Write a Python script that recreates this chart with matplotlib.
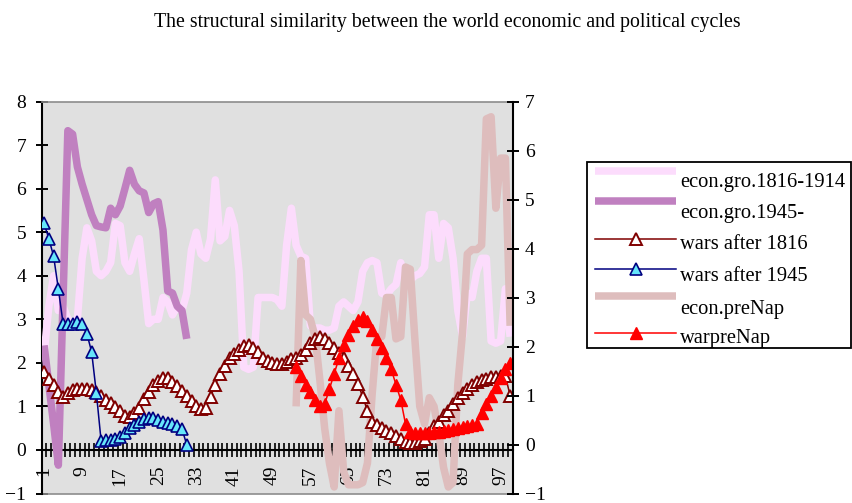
import numpy as np
import matplotlib
matplotlib.use("Agg")
import matplotlib.pyplot as plt
from matplotlib.lines import Line2D
from matplotlib.patches import Rectangle

plt.rcParams['font.family'] = ['Liberation Serif', 'DejaVu Serif']

W, H = 852, 503

title = "The structural similarity between the world economic and political cycles"
categories = list(range(1, 100))
tick_labels = [str(c) for c in range(1, 100, 8)]

econ_gro_1816 = [2.2, 3.3, 4.0, 3.2, 3.3, 3.0, 2.9, 3.0, 4.4, 5.1,
                 4.8, 4.1, 4.0, 4.1, 4.3, 5.2, 5.15, 4.3, 4.1, 4.5,
                 4.85, 3.9, 2.9, 3.0, 3.0, 3.5, 3.4, 3.1, 3.3, 3.2,
                 3.6, 4.6, 5.0, 4.5, 4.4, 4.85, 6.2, 4.8, 4.9, 5.5,
                 5.15, 4.1, 1.9, 1.85, 1.9, 3.5, 3.5, 3.5, 3.5, 3.45,
                 3.3, 4.7, 5.55, 4.7, 4.45, 4.4, 2.85, 2.8, 2.8, 2.75,
                 2.75, 2.8, 3.3, 3.4, 3.3, 3.2, 3.4, 4.1, 4.3, 4.35,
                 4.3, 3.6, 3.55, 3.7, 3.8, 4.3, 3.9, 3.9, 4.0, 4.05,
                 4.2, 5.4, 5.4, 4.4, 5.2, 5.1, 4.4, 3.2, 2.6, 3.6,
                 3.5, 4.1, 4.4, 4.4, 2.5, 2.45, 2.5, 3.7, 2.6]

econ_gro_1945 = [2.4, 1.5, 0.6, -0.35, 3.5, 7.33, 7.25, 6.5, 6.1, 5.75,
                 5.4, 5.15, 5.12, 5.1, 5.55, 5.4, 5.6, 6.0, 6.42, 6.1,
                 5.95, 5.9, 5.45, 5.65, 5.7, 5.05, 3.65, 3.6, 3.3, 3.2, 2.55]

wars_after_1816 = [1.8, 1.63, 1.48, 1.33, 1.22, 1.3, 1.38, 1.4, 1.4, 1.4,
                   1.38, 1.33, 1.25, 1.15, 1.07, 0.98, 0.9, 0.78, 0.75, 0.85,
                   0.97, 1.17, 1.33, 1.48, 1.58, 1.65, 1.65, 1.57, 1.47, 1.35,
                   1.23, 1.12, 1.02, 0.93, 0.97, 1.22, 1.5, 1.75, 1.93, 2.1,
                   2.2, 2.3, 2.38, 2.42, 2.35, 2.25, 2.12, 2.05, 2.0, 1.98,
                   1.98, 2.02, 2.08, 2.12, 2.18, 2.3, 2.45, 2.55, 2.6, 2.55,
                   2.45, 2.35, 2.22, 2.1, 1.93, 1.75, 1.52, 1.22, 0.9, 0.65,
                   0.58, 0.5, 0.44, 0.4, 0.32, 0.25, 0.18, 0.17, 0.17, 0.2,
                   0.25, 0.4, 0.55, 0.65, 0.8, 0.9, 1.05, 1.2, 1.3, 1.4,
                   1.5, 1.55, 1.6, 1.62, 1.67, 1.67, 1.7, 1.7, 1.25]

wars_after_1945 = [5.2, 4.85, 4.45, 3.7, 2.9, 2.9, 2.9, 2.93, 2.9, 2.67,
                   2.25, 1.3, 0.2, 0.22, 0.22, 0.26, 0.3, 0.4, 0.5, 0.58,
                   0.64, 0.7, 0.74, 0.74, 0.68, 0.64, 0.63, 0.6, 0.54, 0.48, 0.12]

econ_prenap = [1.0, 4.35, 3.1, 3.0, 2.6, 1.6, 0.5, -0.3, -0.85, 0.9,
               -0.5, -0.8, -0.8, -0.8, -0.75, -0.3, 1.3, 2.6, 2.6, 3.5,
               3.5, 2.55, 2.6, 4.2, 4.15, 2.5, 1.0, 0.6, 1.2, 1.0,
               0.4, -0.4, -0.85, -0.75, 1.5, 2.7, 4.5, 4.6, 4.6, 4.7,
               7.6, 7.65, 5.55, 6.7, 6.7, 2.85]

war_prenap = [1.9, 1.7, 1.5, 1.33, 1.15, 1.0, 1.05, 1.4, 1.75, 2.1,
              2.4, 2.65, 2.85, 2.98, 3.06, 2.95, 2.75, 2.55, 2.35, 2.1,
              1.85, 1.5, 1.15, 0.6, 0.42, 0.38, 0.38, 0.4, 0.4, 0.42,
              0.42, 0.44, 0.46, 0.48, 0.5, 0.52, 0.55, 0.58, 0.6, 0.85,
              1.05, 1.25, 1.45, 1.65, 1.85, 2.0]

prenap_start = 54  # first category of the pre-Napoleonic series

C_E1816 = '#FCDCFC'
C_E1945 = '#C080C0'
C_PRE = '#DEBDBD'
C_W1816 = '#800000'
C_W1945 = '#000080'
C_CYAN = '#66E6FA'
C_RED = '#FF0000'

MS = 8.6

fig = plt.figure(figsize=(W / 100, H / 100), dpi=100)
ax = fig.add_axes([41.7 / W, (H - 493.5) / H, 470.8 / W, 392 / H])
ax.set_facecolor('#E0E0E0')
ax.set_xlim(0.5, 99.5)
ax.set_ylim(-1, 8)
ax.set_axisbelow(True)

x_all = np.array(categories)
x_post = x_all[:len(econ_gro_1945)]
x_pre = x_all[prenap_start - 1:]

thick = 5.4
ax.plot(x_all, econ_gro_1816, color=C_E1816, lw=thick, solid_capstyle='butt', zorder=3)
ax.plot(x_post, econ_gro_1945, color=C_E1945, lw=thick, solid_capstyle='butt', zorder=3.1)
ax.plot(x_all, wars_after_1816, color=C_W1816, lw=1.1, marker='^', ms=MS,
        mfc='white', mec=C_W1816, mew=1.4, zorder=4)
ax.plot(x_post, wars_after_1945, color=C_W1945, lw=1.1, marker='^', ms=MS,
        mfc=C_CYAN, mec=C_W1945, mew=1.2, zorder=4.1)
ax.plot(x_pre, econ_prenap, color=C_PRE, lw=thick, solid_capstyle='butt', zorder=3.2)
ax.plot(x_pre, war_prenap, color=C_RED, lw=1.1, marker='^', ms=MS,
        mfc=C_RED, mec=C_RED, mew=1.0, zorder=4.2)

# spines
ax.spines['top'].set_color('#8C8C8C')
ax.spines['top'].set_linewidth(1.2)
ax.spines['right'].set_visible(False)
ax.spines['left'].set_color('black')
ax.spines['left'].set_linewidth(1.5)
ax.spines['bottom'].set_position(('data', 0))
ax.spines['bottom'].set_color('black')
ax.spines['bottom'].set_linewidth(1.5)
ax.axhline(-1, color='#8C8C8C', lw=1.2, clip_on=False, zorder=2)

ax.set_yticks(range(-1, 9))
ax.tick_params(axis='y', direction='inout', length=8.4, width=1.4, pad=7, labelsize=14)
ax.set_xticks(range(1, 100, 8))
ax.set_xticklabels(tick_labels)
ax.tick_params(axis='x', which='major', length=0, pad=11.5, labelsize=14, labelrotation=90)
ax.set_xticks(np.arange(0.5, 100, 1), minor=True)
ax.tick_params(axis='x', which='minor', direction='inout', length=10, width=1.2)

ax2 = ax.twinx()
ax2.set_ylim(-1, 7)
for s in ['top', 'bottom', 'left']:
    ax2.spines[s].set_visible(False)
ax2.spines['right'].set_color('black')
ax2.spines['right'].set_linewidth(1.5)
ax2.set_yticks(range(-1, 8))
ax2.tick_params(axis='y', direction='inout', length=8.4, width=1.4, pad=4.7, labelsize=14)

fig.text(447 / W, 1 - 26.5 / H, title, ha='center', va='baseline', fontsize=14.3)

# legend (drawn manually to match the original layout)
def fx(x):
    return x / W

def fy(y):
    return 1 - y / H

fig.add_artist(Rectangle((fx(587), fy(348)), fx(851) - fx(587), fy(162) - fy(348),
                         transform=fig.transFigure, facecolor='white',
                         edgecolor='black', lw=1.3, zorder=5))
entries = [
    ("econ.gro.1816-1914", dict(color=C_E1816, lw=thick, solid_capstyle='butt'), None, 171, 187.3),
    ("econ.gro.1945-", dict(color=C_E1945, lw=thick, solid_capstyle='butt'), None, 201, 218.3),
    ("wars after 1816", dict(color=C_W1816, lw=1.1), dict(mfc='white', mec=C_W1816, mew=1.4), 239.3, 249.3),
    ("wars after 1945", dict(color=C_W1945, lw=1.1), dict(mfc=C_CYAN, mec=C_W1945, mew=1.2), 269.3, 281),
    ("econ.preNap", dict(color=C_PRE, lw=thick, solid_capstyle='butt'), None, 295.7, 314),
    ("warpreNap", dict(color=C_RED, lw=1.1), dict(mfc=C_RED, mec=C_RED, mew=1.0), 332.7, 343.3),
]
for label, lstyle, mstyle, ys, yt in entries:
    fig.add_artist(Line2D([fx(595), fx(676)], [fy(ys), fy(ys)],
                          transform=fig.transFigure, zorder=6, **lstyle))
    if mstyle is not None:
        fig.add_artist(Line2D([fx(635.5)], [fy(ys)], transform=fig.transFigure,
                              marker='^', ms=MS, ls='none', zorder=7, **mstyle))
    fig.text(fx(680), fy(yt), label, ha='left', va='baseline', fontsize=14.8, zorder=8)

fig.savefig('out.png', dpi=100)
